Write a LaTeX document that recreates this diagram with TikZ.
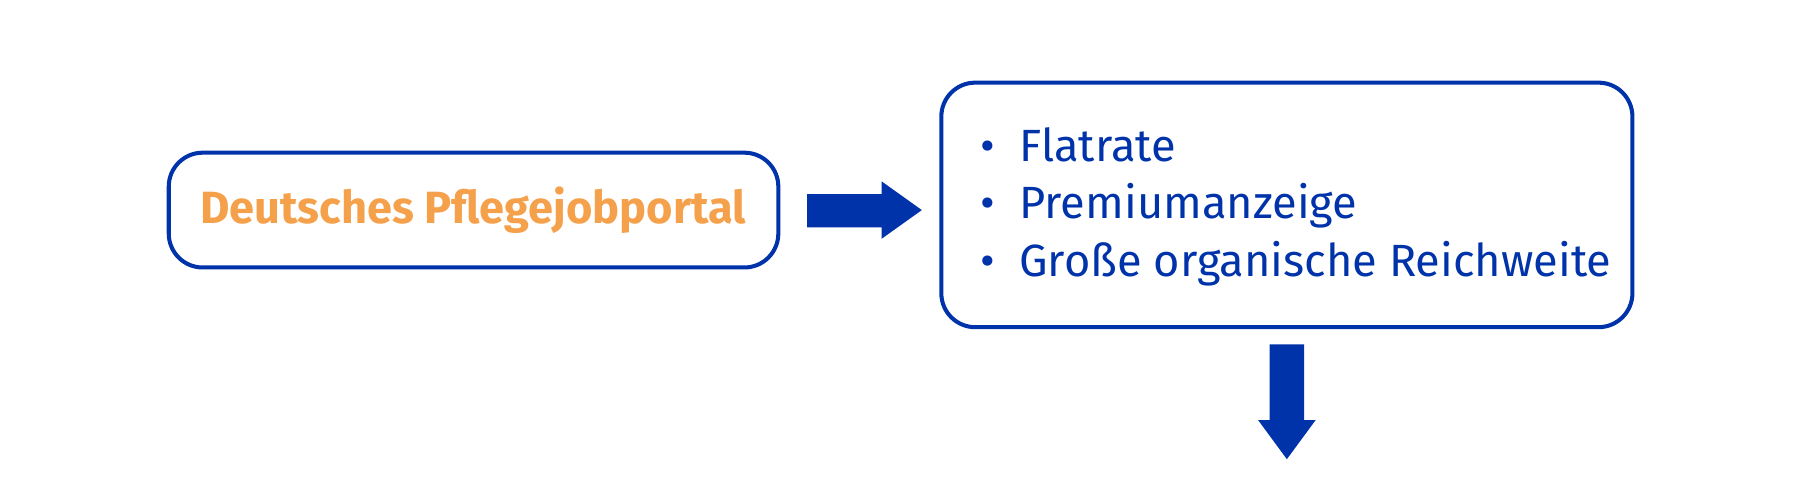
\documentclass[tikz,border=0pt]{standalone}
\usepackage{fontspec}
\setmainfont{Fira Sans}
\begin{document}
\begin{tikzpicture}[x=0.05cm,y=-0.05cm]
\definecolor{myblue}{HTML}{0033AA}
\definecolor{myorange}{HTML}{F5A04A}
\tikzset{box/.style={draw=myblue,line width=5pt,rounded corners=42pt}}
\useasboundingbox (0,0) rectangle (1568,435);
\draw[box] (147,133) rectangle (678,233);
\node[font=\fontsize{56}{60}\selectfont\bfseries,text=myorange] (t1) at (412,183) {Deutsches Pflegejobportal};
\draw[box] (820,72) rectangle (1422,285);
\node[anchor=west,text=myblue,align=left,font=\fontsize{56}{71}\selectfont] (t2) at (852,180) {%
\textbullet\ \ Flatrate\\ \textbullet\ \ Premiumanzeige\\ \textbullet\ \ Große organische Reichweite};
\fill[myblue] (703,169) -- (768,169) -- (768,158) -- (803,183) -- (768,208) -- (768,198) -- (703,198) -- cycle;
\fill[myblue] (1106,300) -- (1136,300) -- (1136,366) -- (1146,366) -- (1121,400) -- (1096,366) -- (1106,366) -- cycle;
\end{tikzpicture}
\end{document}
